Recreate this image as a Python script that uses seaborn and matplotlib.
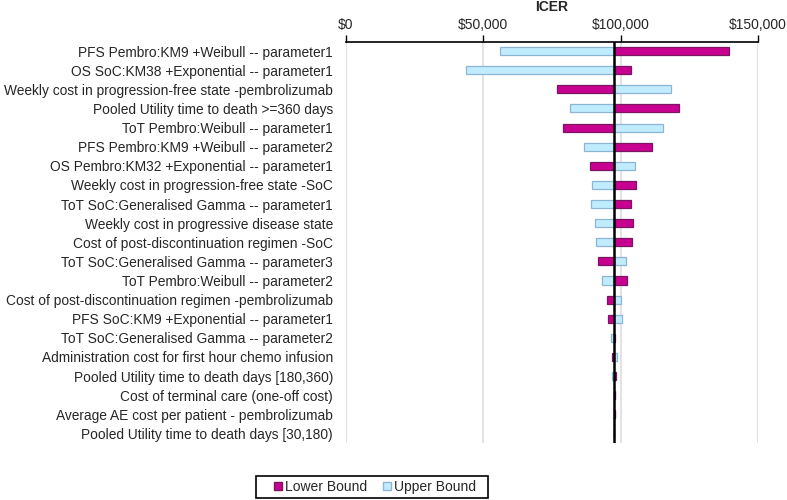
import matplotlib
matplotlib.use("Agg")
import matplotlib.pyplot as plt
from matplotlib.patches import Patch, Rectangle
from matplotlib.ticker import FuncFormatter
import seaborn as sns

# -- Data ----------------------------------------------------------------------
parameters = [
    "PFS Pembro:KM9 +Weibull -- parameter1",
    "OS SoC:KM38 +Exponential -- parameter1",
    "Weekly cost in progression-free state -pembrolizumab",
    "Pooled Utility time to death >=360 days",
    "ToT Pembro:Weibull -- parameter1",
    "PFS Pembro:KM9 +Weibull -- parameter2",
    "OS Pembro:KM32 +Exponential -- parameter1",
    "Weekly cost in progression-free state -SoC",
    "ToT SoC:Generalised Gamma -- parameter1",
    "Weekly cost in progressive disease state",
    "Cost of post-discontinuation regimen -SoC",
    "ToT SoC:Generalised Gamma -- parameter3",
    "ToT Pembro:Weibull -- parameter2",
    "Cost of post-discontinuation regimen -pembrolizumab",
    "PFS SoC:KM9 +Exponential -- parameter1",
    "ToT SoC:Generalised Gamma -- parameter2",
    "Administration cost for first hour chemo infusion",
    "Pooled Utility time to death days [180,360)",
    "Cost of terminal care (one-off cost)",
    "Average AE cost per patient - pembrolizumab",
    "Pooled Utility time to death days [30,180)",
]

lower_bound = [139400, 103700, 76800, 121200, 79100, 111400, 88700, 105500,
               103800, 104500, 104300, 91900, 102300, 95000, 95300, 98100,
               97000, 98300, 98100, 98000, 97600]
upper_bound = [56100, 43800, 118300, 81700, 115300, 86500, 105300, 89700,
               89400, 90800, 91000, 102000, 93400, 100300, 100400, 96400,
               98600, 97000, 97800, 97900, 97500]

base_icer = 97500
x_ticks = [0, 50000, 100000, 150000]

# -- Style ---------------------------------------------------------------------
sns.set_style("white")
plt.rcParams["font.family"] = ["Liberation Sans", "DejaVu Sans"]

LOWER_COLOR = "#C8008F"
LOWER_EDGE = "#7A1560"
UPPER_COLOR = "#C0ECFD"
UPPER_EDGE = "#8DB6D6"

fig = plt.figure(figsize=(7.87, 5.0), dpi=100)
ax = fig.add_axes([0.4397, 0.114, 0.5233, 0.803])

rows = list(range(len(parameters)))
bar_h = 0.42

ax.barh(rows, [u - base_icer for u in upper_bound], left=base_icer, height=bar_h,
        color=UPPER_COLOR, edgecolor=UPPER_EDGE, linewidth=0.9, zorder=3)
ax.barh(rows, [l - base_icer for l in lower_bound], left=base_icer, height=bar_h,
        color=LOWER_COLOR, edgecolor=LOWER_EDGE, linewidth=0.9, zorder=3)

ax.axvline(base_icer, color="black", lw=1.8, zorder=4)

ax.set_xlim(0, 150000)
ax.set_ylim(len(parameters) - 0.5, -0.5)
ax.set_xticks(x_ticks)
ax.xaxis.set_major_formatter(FuncFormatter(lambda v, _: f"${v:,.0f}"))
ax.xaxis.tick_top()
ax.tick_params(axis="x", direction="out", length=5, width=1, color="black",
               labelsize=10, pad=2, top=True, bottom=False)
ax.set_yticks(rows)
ax.set_yticklabels(parameters, fontsize=9.9)
ax.tick_params(axis="y", length=0, pad=9.4)

ax.grid(axis="x", color="#E3E3E3", lw=1.5, zorder=0)
ax.grid(axis="y", visible=False)
for side in ["left", "right", "bottom"]:
    ax.spines[side].set_visible(False)
ax.spines["top"].set_color("black")
ax.spines["top"].set_linewidth(1.2)

ax.set_title("ICER", fontsize=10, fontweight="bold", pad=22)

# legend: entries without frame, box drawn separately to get Excel-like padding
handles = [Patch(facecolor=LOWER_COLOR, edgecolor=LOWER_EDGE, label="Lower Bound"),
           Patch(facecolor=UPPER_COLOR, edgecolor=UPPER_EDGE, label="Upper Bound")]
fig.legend(handles=handles, loc="center", bbox_to_anchor=(0.4765, 0.026),
           ncol=2, fontsize=10, frameon=False,
           handlelength=0.55, handleheight=0.55, handletextpad=0.2,
           columnspacing=1.2, borderpad=0.0, borderaxespad=0)
fig.patches.append(Rectangle((256 / 787, 2 / 500), 232 / 787, 22 / 500,
                             transform=fig.transFigure, fill=False,
                             edgecolor="black", linewidth=1.2))

fig.savefig("out.png", dpi=100)
